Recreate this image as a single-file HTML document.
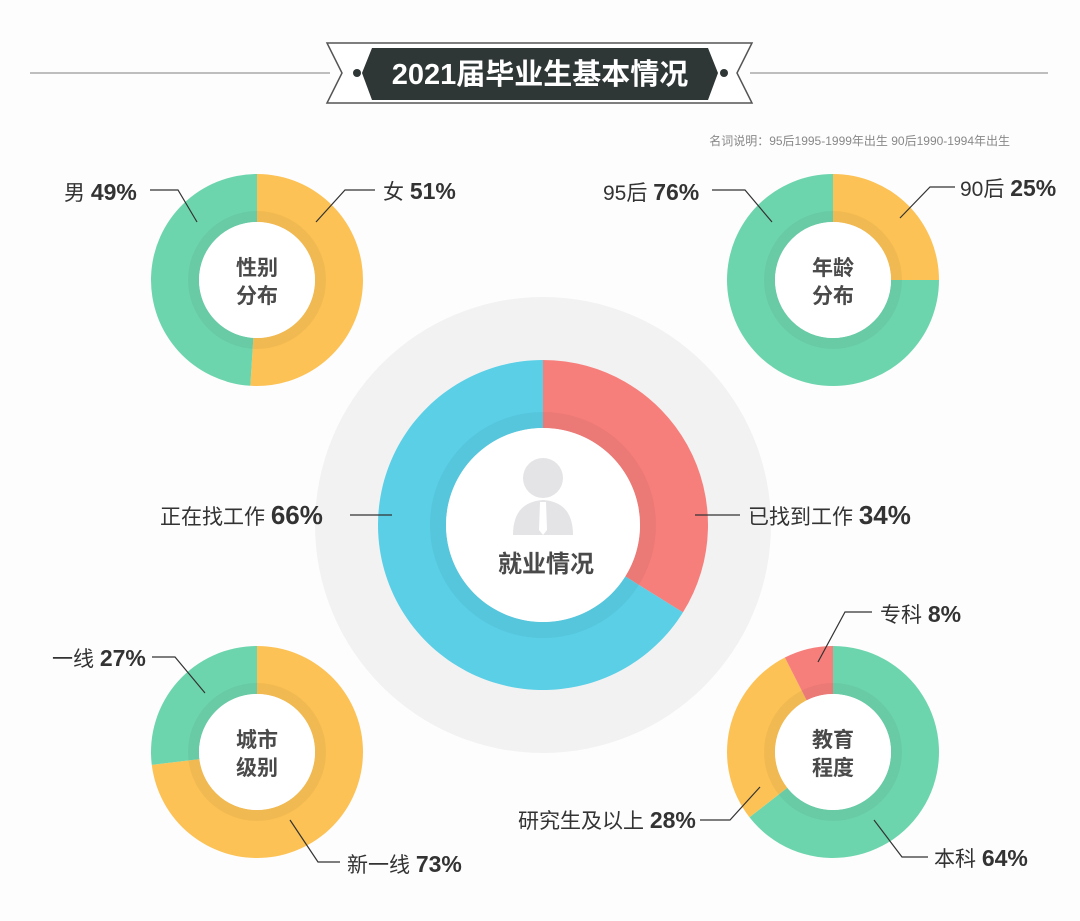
<!DOCTYPE html>
<html><head><meta charset="utf-8"><style>
html,body{margin:0;padding:0;background:#fff}
svg{display:block}
text{font-family:"Liberation Sans","Noto Sans CJK SC",sans-serif}
</style></head><body>
<svg id="s" width="1080" height="921" viewBox="0 0 1080 921" xmlns="http://www.w3.org/2000/svg">
<rect width="1080" height="921" fill="#fdfdfd"/>
<line x1="30" y1="73" x2="330" y2="73" stroke="#999" stroke-width="1.2"/>
<line x1="750" y1="73" x2="1048" y2="73" stroke="#999" stroke-width="1.2"/>
<polygon points="327,43 752,43 737,73 752,103 327,103 342,73" fill="#fff" stroke="#555" stroke-width="1.5"/>
<polygon points="345,47 735,47 722,73 735,99 345,99 358,73" fill="#fff"/>
<polygon points="372,48 708,48 718,73 708,100 372,100 362,73" fill="#2e3636"/>
<circle cx="357" cy="73" r="4" fill="#2e3636"/>
<circle cx="724" cy="73" r="4" fill="#2e3636"/>
<text x="540" y="84" font-size="29" font-weight="bold" fill="#fff" text-anchor="middle">2021届毕业生基本情况</text>
<text x="1010" y="145" font-size="12" fill="#888" text-anchor="end">名词说明：95后1995-1999年出生  90后1990-1994年出生</text>
<circle cx="543" cy="525" r="228" fill="#f2f2f3"/>
<g id="d"></g>
<g stroke="#333" stroke-width="1.2" fill="none">
<polyline points="150,190 178,190 197,222"/>
<polyline points="316,222 345,190 375,190"/>
<polyline points="712,190 745,190 772,222"/>
<polyline points="900,218 930,187 955,187"/>
<polyline points="350,515 392,515"/>
<polyline points="695,515 740,515"/>
<polyline points="152,657 175,657 205,693"/>
<polyline points="290,820 318,862 340,862"/>
<polyline points="818,662 845,612 872,612"/>
<polyline points="700,820 730,820 760,787"/>
<polyline points="874,820 902,857 928,857"/>
</g>
<g font-size="21" fill="#333">
<text x="64" y="200">男 <tspan font-weight="bold" font-size="23">49%</tspan></text>
<text x="383" y="199">女 <tspan font-weight="bold" font-size="23">51%</tspan></text>
<text x="603" y="200">95后 <tspan font-weight="bold" font-size="23">76%</tspan></text>
<text x="960" y="196">90后 <tspan font-weight="bold" font-size="23">25%</tspan></text>
<text x="160" y="524">正在找工作 <tspan font-weight="bold" font-size="26">66%</tspan></text>
<text x="748" y="524">已找到工作 <tspan font-weight="bold" font-size="26">34%</tspan></text>
<text x="52" y="666">一线 <tspan font-weight="bold" font-size="23">27%</tspan></text>
<text x="347" y="872">新一线 <tspan font-weight="bold" font-size="23">73%</tspan></text>
<text x="880" y="622">专科 <tspan font-weight="bold" font-size="23">8%</tspan></text>
<text x="518" y="828">研究生及以上 <tspan font-weight="bold" font-size="23">28%</tspan></text>
<text x="934" y="866">本科 <tspan font-weight="bold" font-size="23">64%</tspan></text>
</g>
<g font-size="21" font-weight="bold" fill="#4a4a4a" text-anchor="middle">
<text x="257" y="275">性别</text><text x="257" y="303">分布</text>
<text x="833" y="275">年龄</text><text x="833" y="303">分布</text>
<text x="257" y="747">城市</text><text x="257" y="775">级别</text>
<text x="833" y="747">教育</text><text x="833" y="775">程度</text>
<text x="546" y="572" font-size="24">就业情况</text>
</g>
<g fill="#e4e4e6">
<circle cx="543" cy="478" r="20"/>
<path d="M513,535 Q513,502 543,500 Q573,502 573,535 Z"/>
</g>
<polygon points="540,502 546,502 547,530 543,535 539,530" fill="#fff"/>
</svg>
<script>
var G='#6dd5ad',Y='#fcc256',R='#f67f7b',B='#5acfe6';
function pt(cx,cy,r,a){a=(a-90)*Math.PI/180;return [cx+r*Math.cos(a),cy+r*Math.sin(a)];}
function arc(cx,cy,r0,r1,a0,a1,c){var L=(a1-a0)>180?1:0;var p=pt(cx,cy,r1,a0),q=pt(cx,cy,r1,a1),s=pt(cx,cy,r0,a1),t=pt(cx,cy,r0,a0);
return '<path d="M'+p+' A'+r1+','+r1+' 0 '+L+' 1 '+q+' L'+s+' A'+r0+','+r0+' 0 '+L+' 0 '+t+' Z" fill="'+c+'"/>';}
function donut(cx,cy,ro,ri,band,segs){var h='';segs.forEach(function(s){h+=arc(cx,cy,ri,ro,s[0],s[1],s[2]);});
h+='<circle cx="'+cx+'" cy="'+cy+'" r="'+(ri+band/2)+'" fill="none" stroke="rgba(0,0,0,0.045)" stroke-width="'+band+'"/>';
h+='<circle cx="'+cx+'" cy="'+cy+'" r="'+ri+'" fill="#fff"/>';return h;}
var h='';
h+=donut(543,525,165,97,16,[[0,122,R],[122,360,B]]);
h+=donut(257,280,106,58,11,[[0,183.6,Y],[183.6,360,G]]);
h+=donut(833,280,106,58,11,[[0,90,Y],[90,360,G]]);
h+=donut(257,752,106,58,11,[[0,263,Y],[263,360,G]]);
h+=donut(833,752,106,58,11,[[0,232,G],[232,333,Y],[333,360,R]]);
document.getElementById('d').innerHTML=h;
</script>
</body></html>
